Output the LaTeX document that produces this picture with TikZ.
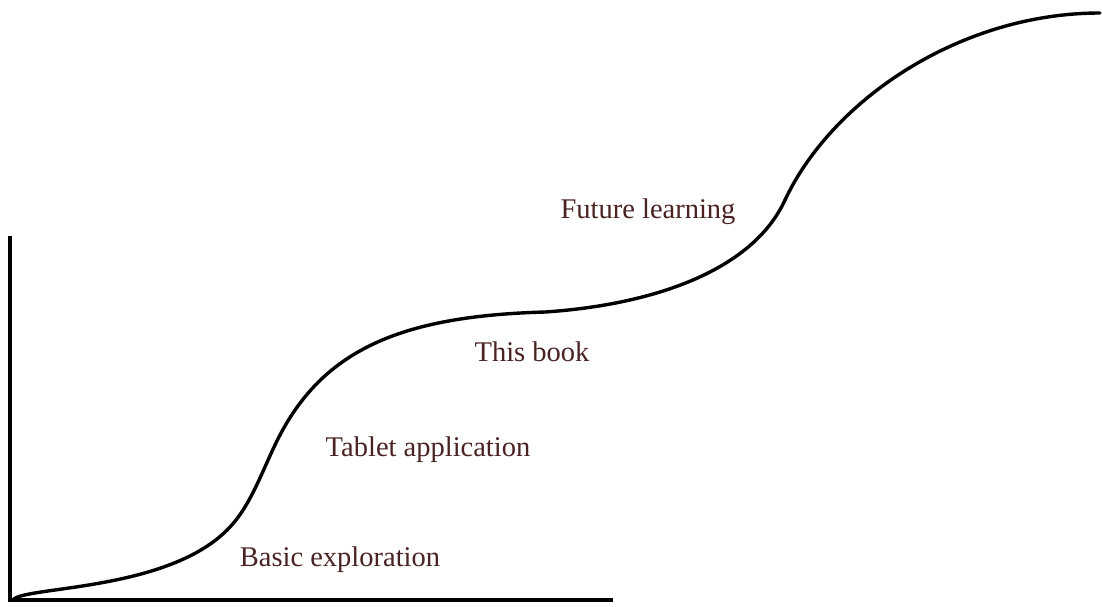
\documentclass[tikz,border=0pt]{standalone}
\usepackage{fontspec}
\setmainfont{Liberation Serif}
\usepackage{tikz}
\usetikzlibrary{positioning}

\definecolor{labelbrown}{HTML}{4A2222}

\begin{document}
\begin{tikzpicture}[
    x=1pt, y=-1pt,
    axis/.style={line width=3.8pt, black},
    curve/.style={line width=3.4pt, black, line cap=round},
    stage/.style={font=\fontsize{28.5}{32}\selectfont, text=labelbrown, inner sep=0pt}
    ]

    \useasboundingbox (0,0) rectangle (1103,606);

    % Ejes
    \coordinate (origin) at (10,600);
    \coordinate (ytop) at (10,236);
    \coordinate (xend) at (613,600);
    \draw[axis] (ytop) -- (origin) -- (xend);

    % Puntos de paso de la curva
    \coordinate (c0) at (13,600);
    \coordinate (c1) at (230,527);
    \coordinate (c2) at (275,445);
    \coordinate (c3) at (545,312);
    \coordinate (c4) at (785,200);
    \coordinate (c5) at (1100,13);

    % Curva de aprendizaje
    \draw[curve] (c0) .. controls (22,586) and (170,592) .. (c1)
                      .. controls (250,506) and (262,472) .. (c2)
                      .. controls (320,350) and (400,316) .. (c3)
                      .. controls (650,305) and (752,272) .. (c4)
                      .. controls (832,100) and (960,13) .. (c5);

    % Etapas
    \node[stage] (basic) at (340,560) {Basic exploration};
    \node[stage] (tablet) at (428,450) {Tablet application};
    \node[stage] (book) at (532,352) {This book};
    \node[stage] (future) at (648,212) {Future learning};

\end{tikzpicture}
\end{document}
